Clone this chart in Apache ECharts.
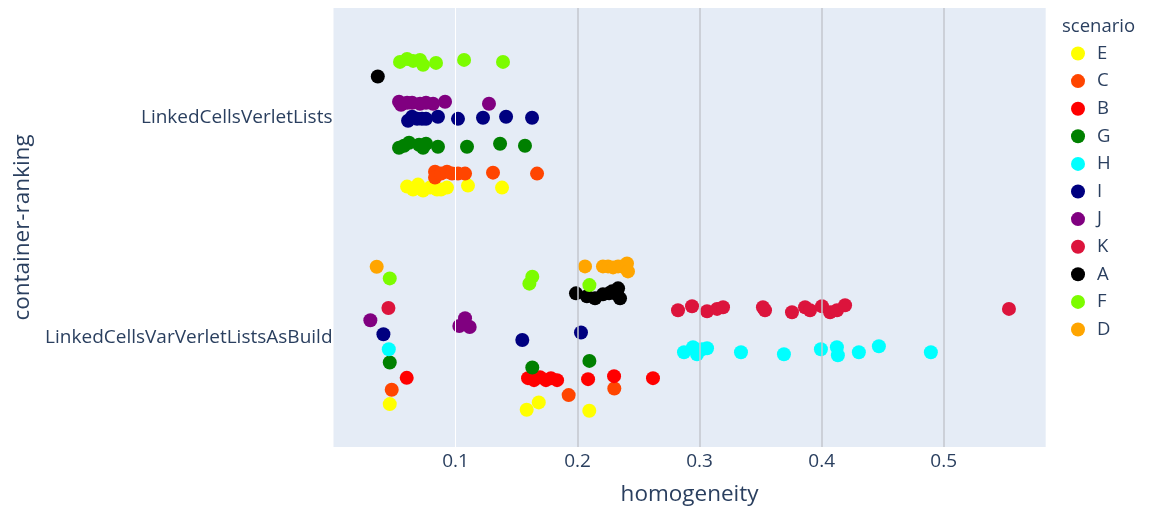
<!DOCTYPE html>
<html>
<head>
<meta charset="utf-8">
<script src="https://cdn.jsdelivr.net/npm/echarts@6/dist/echarts.min.js"></script>
<style>html,body{margin:0;padding:0;background:#fff}#c{width:1149px;height:511px}</style>
</head>
<body>
<div id="c"></div>
<script>
// Categories (y axis: index 0 bottom, index 1 top)
const categories = ['LinkedCellsVarVerletListsAsBuild', 'LinkedCellsVerletLists'];
const xTicks = [0.1, 0.2, 0.3, 0.4, 0.5];
const scenarios = ['E', 'C', 'B', 'G', 'H', 'I', 'J', 'K', 'A', 'F', 'D'];
const colors = ['#FFFF00', '#FF4500', '#FF0000', '#008000', '#00FFFF', '#000080', '#800080', '#DC143C', '#000000', '#7CFC00', '#FFA500'];

// Points: [homogeneity, y position in category units (category index + strip offset)]
const E = [[0.0603,0.6864],[0.0652,0.6727],[0.0693,0.6955],[0.0734,0.6682],[0.0791,0.6818],[0.0848,0.6727],[0.0881,0.6727],[0.0930,0.6818],[0.1102,0.6909],[0.1381,0.6818],
  [0.0461,-0.3045],[0.1583,-0.3305],[0.1682,-0.2968],[0.2096,-0.3350]];
const C = [[0.0832,0.7545],[0.0832,0.7273],[0.0881,0.7455],[0.0930,0.7545],[0.0971,0.7455],[0.1020,0.7455],[0.1078,0.7455],[0.1307,0.75],[0.1668,0.7455],
  [0.0477,-0.2395],[0.1927,-0.2636],[0.2301,-0.2332]];
const B = [[0.0600,-0.185],[0.1594,-0.1864],[0.1643,-0.1955],[0.1692,-0.1818],[0.1741,-0.1955],[0.1782,-0.1864],[0.1832,-0.1955],[0.2086,-0.1909],[0.2299,-0.1773],[0.2618,-0.1864]];
const G = [[0.0537,0.8636],[0.0578,0.8727],[0.0619,0.8864],[0.0701,0.8773],[0.0734,0.8636],[0.0758,0.8818],[0.0856,0.8682],[0.1094,0.8682],[0.1365,0.8818],[0.1569,0.8727],
  [0.0461,-0.115],[0.1629,-0.1377],[0.2097,-0.1077]];
const H = [[0.0453,-0.0545],[0.2872,-0.0682],[0.2946,-0.0455],[0.2979,-0.0773],[0.3020,-0.0545],[0.3061,-0.05],[0.3339,-0.0682],[0.3691,-0.0773],[0.3994,-0.0545],[0.4125,-0.0455],[0.4133,-0.0818],[0.4305,-0.0682],[0.4469,-0.0409],[0.4895,-0.0682]];
const I = [[0.0611,0.986],[0.0644,1.0045],[0.0685,0.995],[0.0725,0.995],[0.0758,0.995],[0.0856,1.0045],[0.1020,0.995],[0.1225,1.0],[0.1414,1.0045],[0.1627,1.0],
  [0.0409,0.0136],[0.1547,-0.0123],[0.2028,0.0214]];
const J = [[0.0537,1.0727],[0.0553,1.059],[0.0603,1.068],[0.0644,1.068],[0.0709,1.0636],[0.0758,1.068],[0.0816,1.0636],[0.0914,1.0727],[0.1274,1.0636],
  [0.0302,0.0773],[0.1078,0.0864],[0.1031,0.0514],[0.1116,0.0468]];
const K = [[0.0450,0.1333],[0.2823,0.1227],[0.2938,0.1409],[0.3061,0.1182],[0.3143,0.1291],[0.3192,0.1364],[0.3519,0.1364],[0.3536,0.1227],[0.3757,0.1136],[0.3864,0.1364],[0.3905,0.1227],[0.4003,0.1409],[0.4069,0.1136],[0.4126,0.1227],[0.4192,0.1455],[0.5535,0.1291]];
const A = [[0.0363,1.1877],
  [0.1987,0.2],[0.2077,0.1864],[0.2143,0.1773],[0.2208,0.1955],[0.2258,0.2],[0.2283,0.2091],[0.2324,0.1955],[0.2332,0.2227],[0.2348,0.1773]];
const F = [[0.0545,1.2545],[0.0603,1.268],[0.0652,1.259],[0.0709,1.2636],[0.0734,1.241],[0.0840,1.25],[0.1070,1.2636],[0.1389,1.2545],
  [0.0461,0.268],[0.1629,0.2759],[0.1605,0.2441],[0.2097,0.2377]];
const D = [[0.0354,0.3214],[0.2061,0.3227],[0.2208,0.3227],[0.2250,0.3227],[0.2291,0.3182],[0.2332,0.3227],[0.2364,0.3227],[0.2389,0.3182],[0.2405,0.3364],[0.2413,0.30]];

const seriesData = [E, C, B, G, H, I, J, K, A, F, D];
const FONT = '"Open Sans", "Noto Sans", sans-serif';
const TXT = '#2a3f5f';

const chart = echarts.init(document.getElementById('c'), null, {renderer: 'canvas'});

const series = [{
  type: 'scatter', name: '_grid', data: [], z: 1, silent: true,
  markLine: {
    silent: true, symbol: ['none', 'none'], label: {show: false}, animation: false,
    data: xTicks.map((v, i) => ({xAxis: v, lineStyle: {color: i === 0 ? '#ffffff' : '#c3c7ce', width: i === 0 ? 1 : 1.5, type: 'solid'}}))
  }
}];
scenarios.forEach((s, i) => {
  series.push({
    type: 'scatter', name: s, data: seriesData[i], symbol: 'circle', symbolSize: 14,
    itemStyle: {color: colors[i], opacity: 1}, z: 2
  });
});

chart.setOption({
  animation: false,
  backgroundColor: '#ffffff',
  textStyle: {fontFamily: FONT, color: TXT},
  title: {text: 'scenario', left: 1057, top: 12, textStyle: {fontFamily: FONT, fontSize: 18.5, fontWeight: 'normal', color: TXT}},
  legend: {
    orient: 'vertical', left: 1071, top: 44, data: scenarios, icon: 'circle',
    itemWidth: 28, itemHeight: 14, itemGap: 8.6, padding: 0,
    textStyle: {fontFamily: FONT, fontSize: 18.5, color: TXT}
  },
  grid: {left: 333.5, right: 103.3, top: 8, bottom: 63, show: true, backgroundColor: '#E5ECF6', borderWidth: 0},
  xAxis: {
    type: 'value', min: 0, max: 0.5836, interval: 0.1,
    name: 'homogeneity', nameLocation: 'middle', nameGap: 36,
    nameTextStyle: {fontFamily: FONT, fontSize: 22.5, color: TXT},
    axisLine: {show: false}, axisTick: {show: false}, splitLine: {show: false},
    axisLabel: {fontFamily: FONT, fontSize: 19, color: TXT, margin: 5,
      formatter: v => (xTicks.some(t => Math.abs(t - v) < 1e-9) ? String(+v.toFixed(1)) : '')}
  },
  yAxis: {
    type: 'value', min: -0.5, max: 1.5, interval: 0.5,
    name: 'container-ranking', nameLocation: 'middle', nameGap: 298,
    nameTextStyle: {fontFamily: FONT, fontSize: 22.5, color: TXT},
    axisLine: {show: false}, axisTick: {show: false}, splitLine: {show: false},
    axisLabel: {fontFamily: FONT, fontSize: 19, color: TXT, margin: 1,
      formatter: v => (Math.abs(v - Math.round(v)) < 1e-9 && categories[Math.round(v)] !== undefined ? categories[Math.round(v)] : '')}
  },
  series: series
});
</script>
</body>
</html>
